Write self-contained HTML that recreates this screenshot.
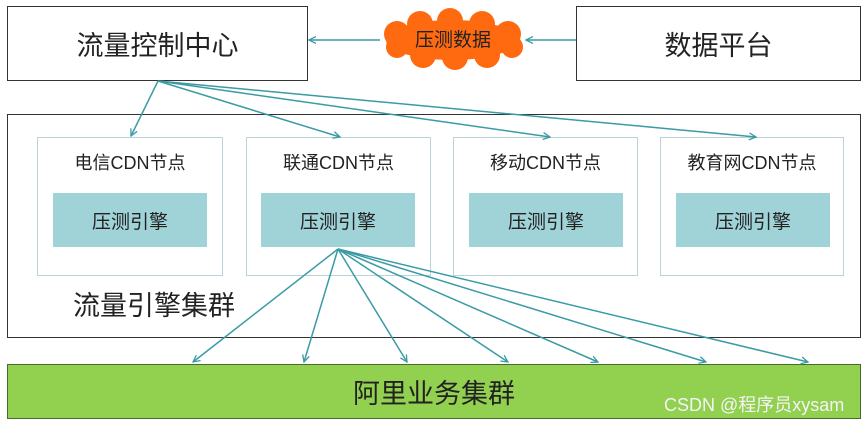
<!DOCTYPE html>
<html><head><meta charset="utf-8"><style>
body{margin:0;width:865px;height:423px;background:#fff;overflow:hidden;position:relative;font-family:"Liberation Sans","Noto Sans CJK SC",sans-serif;color:#222}
.b{position:absolute;box-sizing:border-box}
.c{display:flex;align-items:center;justify-content:center}
</style></head><body>
<div class="b c" style="left:7px;top:6px;width:301px;height:75px;border:1.5px solid #333;font-size:27px">流量控制中心</div>
<div class="b c" style="left:576px;top:6px;width:285px;height:75px;border:1.5px solid #333;font-size:27px">数据平台</div>
<div class="b" style="left:7px;top:114px;width:854px;height:224px;border:1.5px solid #333"></div>
<div class="b c" style="left:37px;top:137px;width:186px;height:139px;border:1px solid #b8d4d8;align-items:flex-start;padding-top:11px;font-size:18px">电信CDN节点</div>
<div class="b c" style="left:246px;top:137px;width:185px;height:139px;border:1px solid #b8d4d8;align-items:flex-start;padding-top:11px;font-size:18px">联通CDN节点</div>
<div class="b c" style="left:453px;top:137px;width:185px;height:139px;border:1px solid #b8d4d8;align-items:flex-start;padding-top:11px;font-size:18px">移动CDN节点</div>
<div class="b c" style="left:660px;top:137px;width:184px;height:139px;border:1px solid #b8d4d8;align-items:flex-start;padding-top:11px;font-size:18px">教育网CDN节点</div>
<div class="b c" style="left:53px;top:193px;width:154px;height:54px;background:#a0d3d8;font-size:19px">压测引擎</div>
<div class="b c" style="left:261px;top:193px;width:154px;height:54px;background:#a0d3d8;font-size:19px">压测引擎</div>
<div class="b c" style="left:469px;top:193px;width:154px;height:54px;background:#a0d3d8;font-size:19px">压测引擎</div>
<div class="b c" style="left:676px;top:193px;width:154px;height:54px;background:#a0d3d8;font-size:19px">压测引擎</div>
<div class="b" style="left:73px;top:284px;font-size:27px">流量引擎集群</div>
<div class="b c" style="left:7px;top:364px;width:854px;height:55px;background:#92d050;border:1.5px solid #4a6a2a;font-size:27px">阿里业务集群</div>
<div class="b" style="left:664px;top:391px;font-size:18px;color:#f4f4f4">CSDN @程序员xysam</div>
<svg class="b" style="left:0;top:0" width="865" height="423">
<defs><marker id="a" markerWidth="8" markerHeight="8" refX="7" refY="4" orient="auto" markerUnits="userSpaceOnUse"><path d="M0,0.5 L7,4 L0,7.5" fill="none" stroke="#3a9aa5" stroke-width="1.3"/></marker></defs>
<g stroke="#3a9aa5" stroke-width="1.5" fill="none" marker-end="url(#a)">
<line x1="380" y1="40" x2="309" y2="40"/>
<line x1="576" y1="40" x2="526" y2="40"/>
<line x1="158" y1="81" x2="131" y2="136"/>
<line x1="158" y1="81" x2="340" y2="137"/>
<line x1="158" y1="81" x2="550" y2="137"/>
<line x1="158" y1="81" x2="756" y2="137"/>
<line x1="338" y1="249" x2="193" y2="362"/>
<line x1="338" y1="249" x2="304" y2="362"/>
<line x1="338" y1="249" x2="407" y2="362"/>
<line x1="338" y1="249" x2="508" y2="362"/>
<line x1="338" y1="249" x2="598" y2="362"/>
<line x1="338" y1="249" x2="706" y2="362"/>
<line x1="338" y1="249" x2="808" y2="362"/>
</g>
<g fill="#ff6a10">
<ellipse cx="452" cy="40" rx="66" ry="20"/>
<circle cx="397" cy="34" r="13"/><circle cx="420" cy="24" r="13"/><circle cx="450" cy="21" r="13"/><circle cx="482" cy="24" r="13"/><circle cx="508" cy="34" r="13"/><circle cx="512" cy="47" r="11"/><circle cx="487" cy="55" r="13"/><circle cx="455" cy="57" r="13"/><circle cx="423" cy="55" r="13"/><circle cx="397" cy="47" r="11"/>
</g>
<text x="453" y="46" text-anchor="middle" font-size="19" fill="#222" font-family="Liberation Sans,Noto Sans CJK SC,sans-serif">压测数据</text>
</svg>
</body></html>
